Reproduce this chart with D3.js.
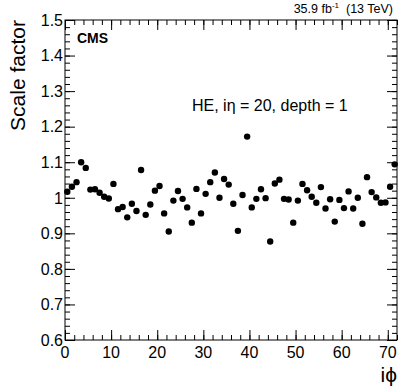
<!DOCTYPE html>
<html>
<head>
<meta charset="utf-8">
<script src="https://cdn.jsdelivr.net/npm/d3@7"></script>
<style>
  body { margin: 0; background: white; }
  text { font-family: "Liberation Sans", Arial, sans-serif; fill: black; }
</style>
</head>
<body>
<div id="chart"></div>
<script>
// Data: scale factor per i-phi bin (HE, ieta = 20, depth = 1)
var iphi = [1, 2, 3, 4, 5, 6, 7, 8, 9, 10, 11, 12, 13, 14, 15, 16, 17, 18,
  19, 20, 21, 22, 23, 24, 25, 26, 27, 28, 29, 30, 31, 32, 33, 34, 35, 36,
  37, 38, 39, 40, 41, 42, 43, 44, 45, 46, 47, 48, 49, 50, 51, 52, 53, 54,
  55, 56, 57, 58, 59, 60, 61, 62, 63, 64, 65, 66, 67, 68, 69, 70, 71, 72];
var scaleFactor = [1.017, 1.031, 1.044, 1.100, 1.084, 1.023, 1.024, 1.014, 1.003, 0.998,
  1.039, 0.968, 0.974, 0.945, 0.983, 0.963, 1.078, 0.952, 0.981, 1.020,
  1.033, 0.956, 0.905, 0.992, 1.019, 0.997, 0.973, 0.930, 1.025, 0.956,
  1.011, 1.044, 1.071, 1.000, 1.053, 1.037, 0.983, 0.907, 1.008, 1.172,
  0.973, 0.997, 1.024, 0.999, 0.877, 1.040, 1.051, 0.997, 0.995, 0.930,
  0.992, 1.039, 1.021, 1.003, 0.986, 1.030, 0.970, 0.996, 0.933, 0.994,
  0.971, 1.018, 0.970, 1.000, 0.927, 1.058, 1.016, 1.001, 0.986, 0.987,
  1.031, 1.094];
var xTickLabels = [0, 10, 20, 30, 40, 50, 60, 70];
var yTickLabels = [0.6, 0.7, 0.8, 0.9, 1, 1.1, 1.2, 1.3, 1.4, 1.5];

// Size
var width = 407, height = 391;
var frameLeft = 65, frameRight = 397, frameTop = 20, frameBottom = 340;
var MAJOR = 10, MINOR = 5;

var svg = d3.select('#chart').append('svg')
  .attr('width', width)
  .attr('height', height);

var x = d3.scaleLinear().domain([0, 72]).range([frameLeft, frameRight]);
var y = d3.scaleLinear().domain([0.6, 1.5]).range([frameBottom, frameTop]);

// ********** AXES **********

// minor ticks every 2 in iphi, every 0.02 in scale factor
var xMinor = d3.range(0, 73, 2);
var yMinor = d3.range(30, 76).map(d => d / 50);

function tickAxis(axis, ticks, size) {
  return axis.tickValues(ticks).tickSize(size).tickFormat('');
}

// bottom + top
svg.append('g').attr('transform', `translate(0,${frameBottom})`)
  .call(tickAxis(d3.axisTop(x), xMinor, MINOR));
svg.append('g').attr('transform', `translate(0,${frameBottom})`)
  .call(tickAxis(d3.axisTop(x), xTickLabels, MAJOR));
svg.append('g').attr('transform', `translate(0,${frameTop})`)
  .call(tickAxis(d3.axisBottom(x), xMinor, MINOR));
svg.append('g').attr('transform', `translate(0,${frameTop})`)
  .call(tickAxis(d3.axisBottom(x), xTickLabels, MAJOR));

// left + right
svg.append('g').attr('transform', `translate(${frameLeft},0)`)
  .call(tickAxis(d3.axisRight(y), yMinor, MINOR));
svg.append('g').attr('transform', `translate(${frameLeft},0)`)
  .call(tickAxis(d3.axisRight(y), yTickLabels, MAJOR));
svg.append('g').attr('transform', `translate(${frameRight},0)`)
  .call(tickAxis(d3.axisLeft(y), yMinor, MINOR));
svg.append('g').attr('transform', `translate(${frameRight},0)`)
  .call(tickAxis(d3.axisLeft(y), yTickLabels, MAJOR));

svg.selectAll('.domain').remove();
svg.selectAll('.tick line').attr('stroke', 'black').attr('stroke-width', 1);

// frame
svg.append('rect')
  .attr('x', frameLeft).attr('y', frameTop)
  .attr('width', frameRight - frameLeft).attr('height', frameBottom - frameTop)
  .attr('fill', 'none').attr('stroke', 'black').attr('stroke-width', 1);

// tick labels
svg.selectAll('.xlab')
  .data(xTickLabels)
  .join('text')
  .attr('class', 'xlab')
  .attr('x', d => x(d))
  .attr('y', frameBottom + 18)
  .attr('text-anchor', 'middle')
  .style('font-size', '16px')
  .text(d => d);

svg.selectAll('.ylab')
  .data(yTickLabels)
  .join('text')
  .attr('class', 'ylab')
  .attr('x', frameLeft - 2)
  .attr('y', d => y(d))
  .attr('dy', '0.36em')
  .attr('text-anchor', 'end')
  .style('font-size', '16px')
  .text(d => d);

// axis titles
svg.append('text')
  .attr('transform', `translate(25,${frameTop}) rotate(-90)`)
  .attr('text-anchor', 'end')
  .style('font-size', '21px')
  .text('Scale factor');

svg.append('text')
  .attr('x', frameRight)
  .attr('y', 382)
  .attr('text-anchor', 'end')
  .style('font-size', '21px')
  .text('iϕ');

// labels
svg.append('text')
  .attr('x', 77).attr('y', 43)
  .style('font-size', '14px')
  .style('font-weight', 'bold')
  .text('CMS');

var lumi = svg.append('text')
  .attr('x', 393).attr('y', 13)
  .attr('text-anchor', 'end')
  .style('font-size', '12.5px');
lumi.append('tspan').text('35.9 fb');
lumi.append('tspan').attr('dy', -5).style('font-size', '8px').text('-1');
lumi.append('tspan').attr('dy', 5).text('\u00a0\u00a0(13 TeV)');

svg.append('text')
  .attr('x', 192).attr('y', 111)
  .style('font-size', '16px')
  .text('HE, iη = 20, depth = 1');

// ********** POINTS **********
var points = iphi.map((d, i) => ({ iphi: d, sf: scaleFactor[i] }));

svg.selectAll('.pt')
  .data(points)
  .join('circle')
  .attr('class', 'pt')
  .attr('cx', d => x(d.iphi - 0.5))
  .attr('cy', d => y(d.sf))
  .attr('r', 3.2)
  .attr('fill', 'black');
</script>
</body>
</html>
